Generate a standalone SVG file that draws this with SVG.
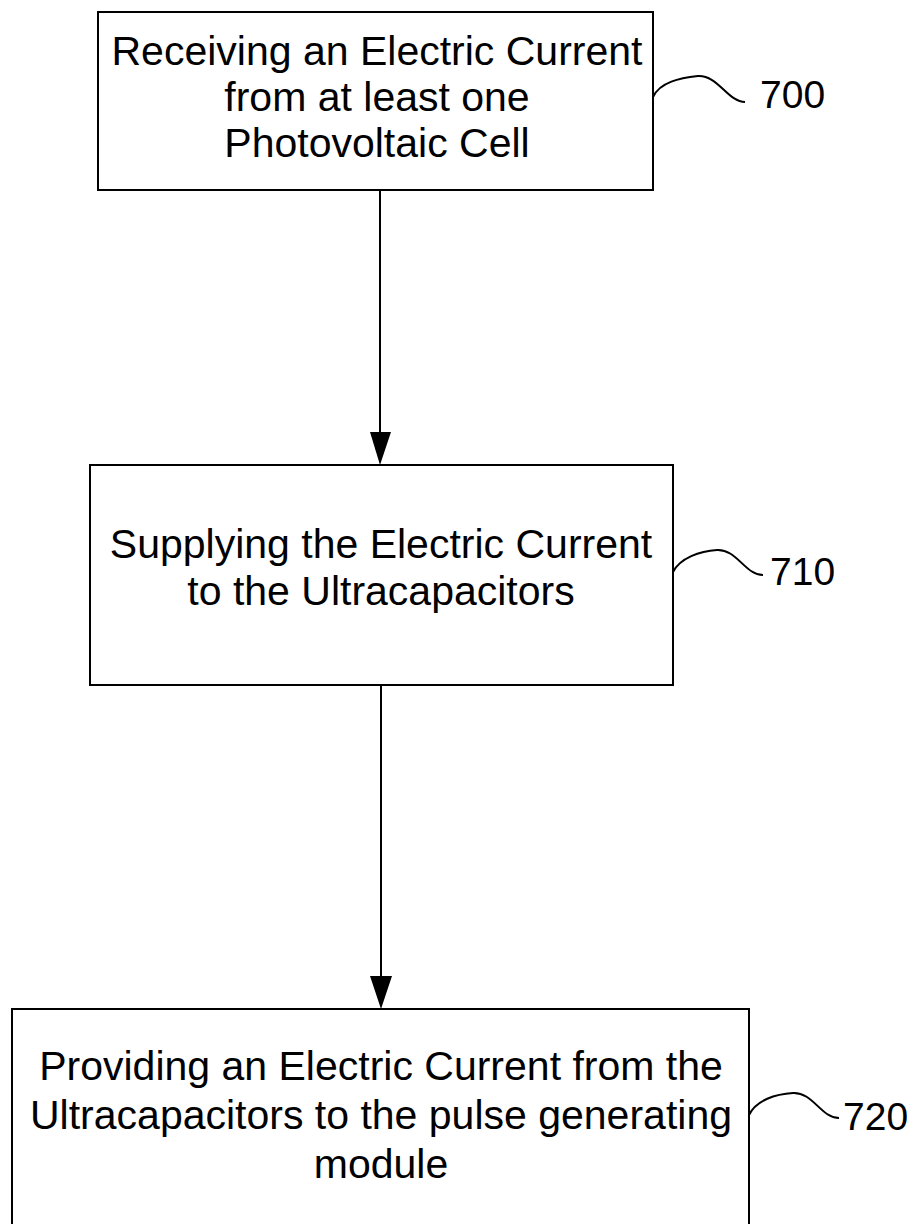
<svg xmlns="http://www.w3.org/2000/svg" width="914" height="1224" viewBox="0 0 914 1224">
<style>
.box{fill:#fff;stroke:#000;stroke-width:2}
.t{font-family:"Liberation Sans",Arial,sans-serif;font-size:41px;fill:#000;text-anchor:middle}
.lbl{font-family:"Liberation Sans",Arial,sans-serif;font-size:39px;fill:#000}
.sq{fill:none;stroke:#000;stroke-width:2}
.conn{stroke:#000;stroke-width:2;fill:none}
.ah{fill:#000}
</style>
<rect width="914" height="1224" fill="#fff"/>
<g id="connectors">
<line class="conn" x1="380" y1="190" x2="380" y2="432"/>
<path class="ah" d="M370,432 L391,432 L380,465 Z"/>
<line class="conn" x1="381" y1="685" x2="381" y2="976"/>
<path class="ah" d="M370,976 L392,976 L381,1009 Z"/>
</g>
<g id="n700">
<rect class="box" x="98" y="12" width="555" height="178"/>
<text class="t" x="377" y="65">Receiving an Electric Current</text>
<text class="t" x="377" y="111">from at least one</text>
<text class="t" x="377" y="157">Photovoltaic Cell</text>
<path class="sq" d="M653,97 C660,82 680,78 698,76 C718,75 728,102 745,102"/>
<text class="lbl" x="760" y="108">700</text>
</g>
<g id="n710">
<rect class="box" x="90" y="465" width="583" height="220"/>
<text class="t" x="381" y="558">Supplying the Electric Current</text>
<text class="t" x="381" y="605">to the Ultracapacitors</text>
<path class="sq" d="M673,572 C680,558 700,551 717,550 C737,549 745,575 763,575"/>
<text class="lbl" x="770" y="585">710</text>
</g>
<g id="n720">
<rect class="box" x="12" y="1009" width="737" height="230"/>
<text class="t" x="381" y="1080">Providing an Electric Current from the</text>
<text class="t" x="381" y="1129">Ultracapacitors to the pulse generating</text>
<text class="t" x="381" y="1178">module</text>
<path class="sq" d="M749,1115 C756,1100 776,1094 793,1093 C813,1092 821,1118 839,1118"/>
<text class="lbl" x="843" y="1130">720</text>
</g>
</svg>
